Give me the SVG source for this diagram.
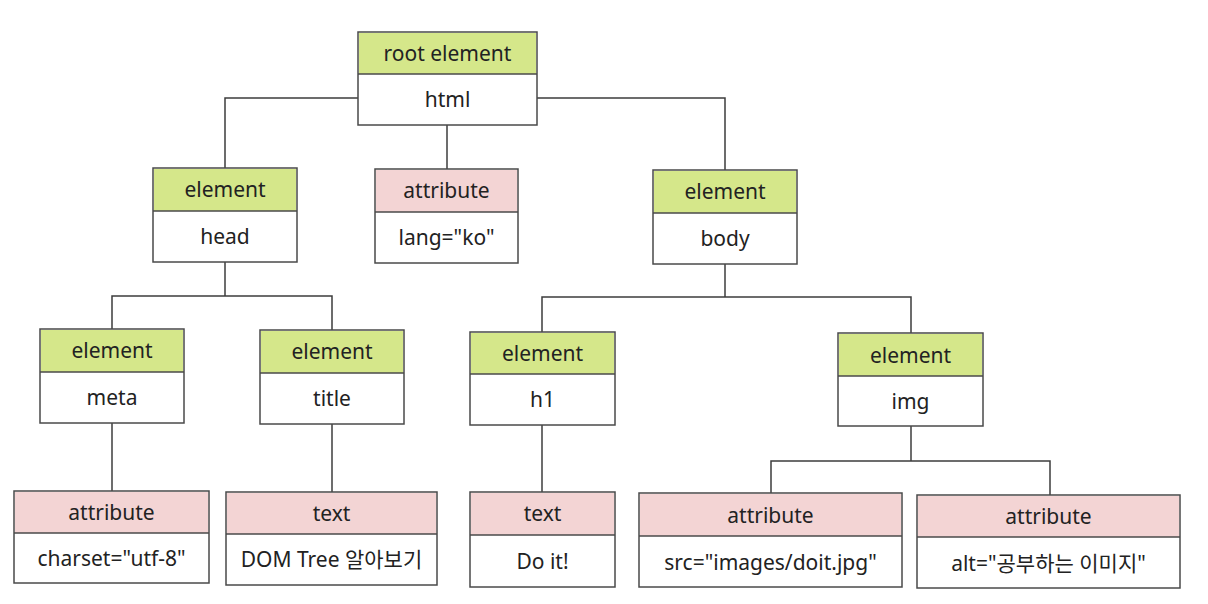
<svg xmlns="http://www.w3.org/2000/svg" width="1208" height="604" viewBox="0 0 1208 604">
<style>
.bg{fill:#ffffff}
.el{fill:#d5e78a}
.at{fill:#f3d4d4}
.box{fill:#ffffff;stroke:#4a4a4a;stroke-width:1.5}
.div{stroke:#4a4a4a;stroke-width:1.5}
.frame{fill:none;stroke:#4a4a4a;stroke-width:1.5}
.t{font-family:"Noto Sans","Noto Sans CJK KR",sans-serif;font-size:21px;fill:#222222;text-anchor:middle}
.con{fill:none;stroke:#3c3c3c;stroke-width:1.5}
</style>
<rect class="bg" x="0" y="0" width="1208" height="604"/>
<g id="connectors">
<path class="con" d="M358 98 H225 V168"/>
<path class="con" d="M447 125 V169"/>
<path class="con" d="M537 98 H725 V170"/>
<path class="con" d="M225 262 V296"/>
<path class="con" d="M112 329 V296 H332 V330"/>
<path class="con" d="M112 423 V491"/>
<path class="con" d="M332 424 V492"/>
<path class="con" d="M725 264 V297"/>
<path class="con" d="M542 332 V297 H911 V333"/>
<path class="con" d="M542 425 V492"/>
<path class="con" d="M911 426 V461"/>
<path class="con" d="M771 493 V461 H1050 V495"/>
</g>
<g id="root">
<rect class="box" x="358" y="32" width="179" height="93"/>
<rect class="el" x="359" y="33" width="177" height="41"/>
<line class="div" x1="358" y1="74" x2="537" y2="74"/>
<text class="t" x="447.5" y="61">root element</text>
<text class="t" x="447.5" y="107">html</text>
</g>
<g id="head">
<rect class="box" x="153" y="168" width="144" height="94"/>
<rect class="el" x="154" y="169" width="142" height="42"/>
<line class="div" x1="153" y1="211" x2="297" y2="211"/>
<text class="t" x="225" y="197">element</text>
<text class="t" x="225" y="244">head</text>
</g>
<g id="lang">
<rect class="box" x="375" y="169" width="143" height="94"/>
<rect class="at" x="376" y="170" width="141" height="42"/>
<line class="div" x1="375" y1="212" x2="518" y2="212"/>
<text class="t" x="446.5" y="198">attribute</text>
<text class="t" x="446.5" y="245">lang="ko"</text>
</g>
<g id="body">
<rect class="box" x="653" y="170" width="144" height="94"/>
<rect class="el" x="654" y="171" width="142" height="42"/>
<line class="div" x1="653" y1="213" x2="797" y2="213"/>
<text class="t" x="725" y="199">element</text>
<text class="t" x="725" y="246">body</text>
</g>
<g id="meta">
<rect class="box" x="40" y="329" width="144" height="94"/>
<rect class="el" x="41" y="330" width="142" height="42"/>
<line class="div" x1="40" y1="372" x2="184" y2="372"/>
<text class="t" x="112" y="358">element</text>
<text class="t" x="112" y="405">meta</text>
</g>
<g id="title">
<rect class="box" x="260" y="330" width="144" height="94"/>
<rect class="el" x="261" y="331" width="142" height="42"/>
<line class="div" x1="260" y1="373" x2="404" y2="373"/>
<text class="t" x="332" y="359">element</text>
<text class="t" x="332" y="406">title</text>
</g>
<g id="h1">
<rect class="box" x="470" y="332" width="145" height="93"/>
<rect class="el" x="471" y="333" width="143" height="41"/>
<line class="div" x1="470" y1="374" x2="615" y2="374"/>
<text class="t" x="542.5" y="361">element</text>
<text class="t" x="542.5" y="407">h1</text>
</g>
<g id="img">
<rect class="box" x="838" y="333" width="145" height="93"/>
<rect class="el" x="839" y="334" width="143" height="42"/>
<line class="div" x1="838" y1="376" x2="983" y2="376"/>
<text class="t" x="910.5" y="363">element</text>
<text class="t" x="910.5" y="409">img</text>
</g>
<g id="charset">
<rect class="box" x="14" y="491" width="195" height="92"/>
<rect class="at" x="15" y="492" width="193" height="41"/>
<line class="div" x1="14" y1="533" x2="209" y2="533"/>
<text class="t" x="111.5" y="520">attribute</text>
<text class="t" x="111.5" y="566">charset="utf-8"</text>
</g>
<g id="titletext">
<rect class="box" x="226" y="492" width="211" height="93"/>
<rect class="at" x="227" y="493" width="209" height="41"/>
<line class="div" x1="226" y1="534" x2="437" y2="534"/>
<text class="t" x="331.5" y="521">text</text>
<text class="t" x="331.5" y="567">DOM Tree 알아보기</text>
</g>
<g id="doit">
<rect class="box" x="470" y="492" width="145" height="95"/>
<rect class="at" x="471" y="493" width="143" height="42"/>
<line class="div" x1="470" y1="535" x2="615" y2="535"/>
<text class="t" x="542.5" y="521">text</text>
<text class="t" x="542.5" y="569">Do it!</text>
</g>
<g id="src">
<rect class="box" x="639" y="493" width="263" height="94"/>
<rect class="at" x="640" y="494" width="261" height="42"/>
<line class="div" x1="639" y1="536" x2="902" y2="536"/>
<text class="t" x="770.5" y="523">attribute</text>
<text class="t" x="770.5" y="570">src="images/doit.jpg"</text>
</g>
<g id="alt">
<rect class="box" x="917" y="495" width="263" height="93"/>
<rect class="at" x="918" y="496" width="261" height="41"/>
<line class="div" x1="917" y1="537" x2="1180" y2="537"/>
<text class="t" x="1048.5" y="524">attribute</text>
<text class="t" x="1048.5" y="571">alt="공부하는 이미지"</text>
</g>
</svg>
